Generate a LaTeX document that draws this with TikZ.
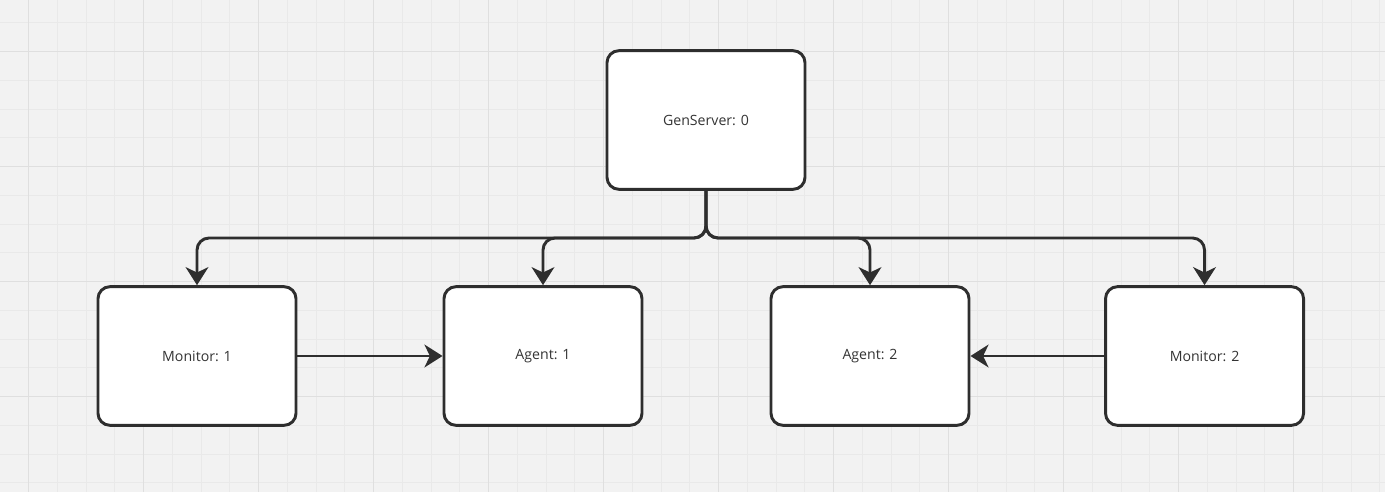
\documentclass[tikz,border=0pt]{standalone}
\usepackage{fontspec}
\setmainfont{Open Sans}
\usepackage{xcolor}
\usepackage{tikz}
\usetikzlibrary{arrows.meta, positioning}

\definecolor{canvas}{HTML}{F2F2F2}
\definecolor{gridmajor}{HTML}{DFDFDF}
\definecolor{gridminor}{HTML}{E9E9E9}
\definecolor{ink}{HTML}{2E2E2E}
\definecolor{txt}{HTML}{333333}

\tikzset{
  proc/.style={draw=ink, line width=2.2pt, fill=white, rounded corners=9pt,
    minimum width=148.5pt, minimum height=104pt, text=txt,
    font=\fontsize{10.6}{12}\selectfont},
  wire/.style={draw=ink, line width=2.2pt, rounded corners=9pt},
}

\begin{document}
\begin{tikzpicture}[x=0.75pt,y=-0.75pt,node distance=177pt,on grid,
    >={Stealth[length=13.5pt,width=17pt,inset=4pt]}]
   % background and grid
   \fill[canvas] (0,0) rectangle (1385,492);
   \useasboundingbox (0,0) rectangle (1385,492);
   \foreach \i in {0,...,48} \draw[gridminor, line width=0.75pt] ({-0.25+28.75*\i},0) -- ++(0,492);
   \foreach \i in {0,...,17} \draw[gridminor, line width=0.75pt] (0,{-5.8+28.75*\i}) -- ++(1385,0);
   \foreach \i in {0,...,11} \draw[gridmajor, line width=0.75pt] ({28.5+115*\i},0) -- ++(0,492);
   \foreach \i in {0,...,3} \draw[gridmajor, line width=0.75pt] (0,{51.7+115*\i}) -- ++(1385,0);

   \node[proc] (gen)     at (706,120) {GenServer: 0};
   \node[proc] (agent_1) [below left=177pt and 122.25pt of gen] {Agent: 1};
   \node[proc] (agent_2) [below right=177pt and 123pt of gen] {Agent: 2};
   \node[proc] (mon_1)   [left=259.5pt of agent_1] {Monitor: 1};
   \node[proc] (mon_2)   [right=250.9pt of agent_2] {Monitor: 2};
   \coordinate (bus) at (706,238);

   \foreach \n in {mon_1, agent_1, agent_2, mon_2}
     \draw[wire, ->] (gen.south) -- (bus) -| (\n.north);
   \draw[wire, ->] (mon_1) -- (agent_1);
   \draw[wire, ->] (mon_2) -- (agent_2);
\end{tikzpicture}
\end{document}
